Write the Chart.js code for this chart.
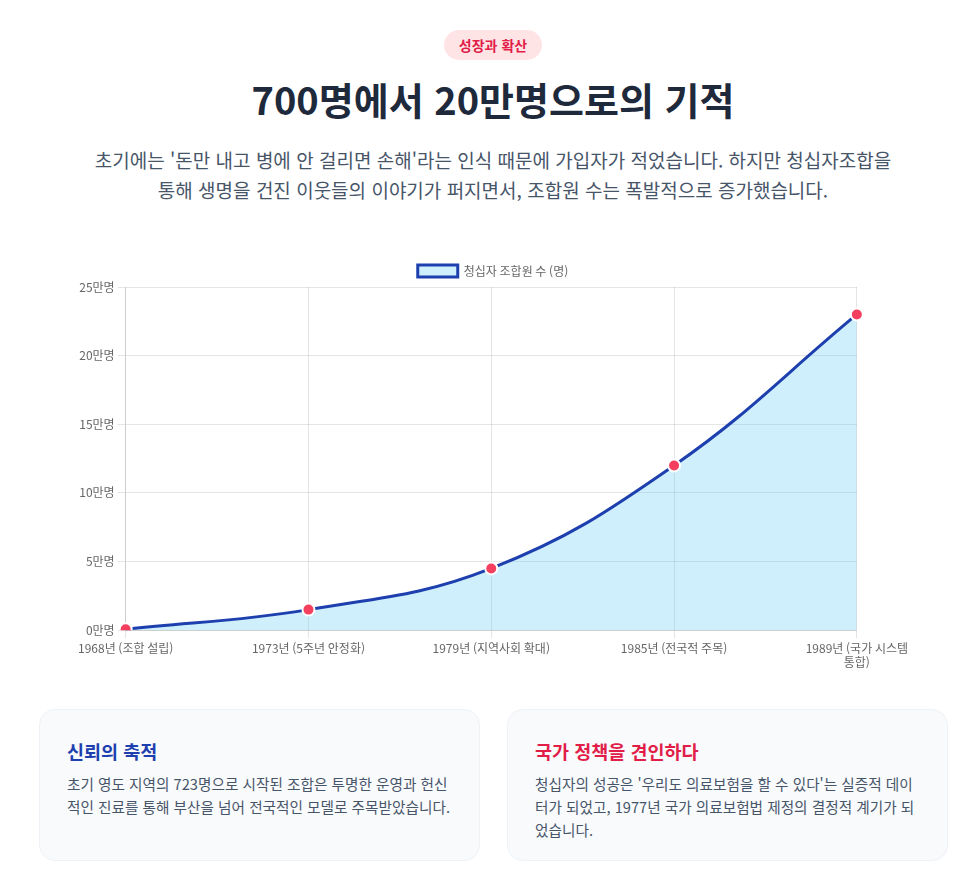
<!DOCTYPE html>
<html lang="ko">
<head>
<meta charset="utf-8">
<script src="https://cdn.jsdelivr.net/npm/chart.js@4"></script>
<style>
  html, body { margin: 0; padding: 0; background: #ffffff; }
  body { font-family: "Noto Sans CJK KR", "Noto Sans", sans-serif; width: 975px; height: 881px; overflow: hidden; }
  .wrap { position: absolute; left: 39px; width: 908px; top: 0; }
  .badge-row { text-align: center; margin-top: 30px; }
  .badge { display: inline-block; background: #ffe4e6; color: #e11d48; font-weight: 700; font-size: 14px; line-height: 30px; height: 30px; padding: 0 15px; border-radius: 15px; }
  h1 { margin: 12px 0 0 0; text-align: center; font-size: 38px; font-weight: 700; color: #1e293b; line-height: 54px; }
  .sub { margin: 19px auto 0 auto; width: 900px; text-align: center; font-size: 19px; color: #475569; line-height: 30px; }
  .chart-box { position: absolute; left: 36px; top: 255px; width: 836px; height: 418px; }
  .cards { position: absolute; left: 0; top: 709px; width: 908px; height: 152px; }
  .card { position: absolute; top: 0; width: 441px; height: 152px; box-sizing: border-box; background: #f8fafc; border: 1px solid #eef2f7; border-radius: 16px; padding: 26px 27px 26px 27px; }
  .card h3 { margin: 0; font-size: 18.5px; font-weight: 700; line-height: 30px; }
  .card p { margin: 6px 0 0 0; font-size: 14.65px; color: #475569; line-height: 23px; }
</style>
</head>
<body>
<div class="wrap">
  <div class="badge-row"><span class="badge">성장과 확산</span></div>
  <h1>700명에서 20만명으로의 기적</h1>
  <div class="sub">초기에는 '돈만 내고 병에 안 걸리면 손해'라는 인식 때문에 가입자가 적었습니다. 하지만 청십자조합을<br>통해 생명을 건진 이웃들의 이야기가 퍼지면서, 조합원 수는 폭발적으로 증가했습니다.</div>
  <div class="chart-box"><canvas id="c"></canvas></div>
  <div class="cards">
    <div class="card" style="left:0;">
      <h3 style="color:#1e40af;">신뢰의 축적</h3>
      <p>초기 영도 지역의 723명으로 시작된 조합은 투명한 운영과 헌신적인 진료를 통해 부산을 넘어 전국적인 모델로 주목받았습니다.</p>
    </div>
    <div class="card" style="left:468px;">
      <h3 style="color:#e11d48;">국가 정책을 견인하다</h3>
      <p>청십자의 성공은 '우리도 의료보험을 할 수 있다'는 실증적 데이터가 되었고, 1977년 국가 의료보험법 제정의 결정적 계기가 되었습니다.</p>
    </div>
  </div>
</div>
<script>
const categories = ['1968년 (조합 설립)', '1973년 (5주년 안정화)', '1979년 (지역사회 확대)', '1985년 (전국적 주목)', ['1989년 (국가 시스템', '통합)']];
const members = [723, 15000, 45000, 120000, 230000];
const seriesLabel = '청십자 조합원 수 (명)';
const yTicks = [0, 50000, 100000, 150000, 200000, 250000];

Chart.defaults.font.family = '"Noto Sans CJK KR", "Noto Sans", sans-serif';
Chart.defaults.font.size = 12;
Chart.defaults.color = '#666';

new Chart(document.getElementById('c'), {
  type: 'line',
  data: {
    labels: categories,
    datasets: [{
      label: seriesLabel,
      data: members,
      borderColor: '#1e40af',
      backgroundColor: 'rgba(56, 189, 248, 0.24)',
      borderWidth: 3,
      fill: true,
      tension: 0.4,
      pointBackgroundColor: '#f43f5e',
      pointBorderColor: '#ffffff',
      pointBorderWidth: 2,
      pointRadius: 6,
      pointHoverRadius: 8
    }]
  },
  options: {
    responsive: true,
    maintainAspectRatio: false,
    animation: false,
    plugins: {
      legend: { position: 'top', labels: { boxWidth: 40, boxHeight: 12 } },
      tooltip: { enabled: true }
    },
    scales: {
      y: {
        min: 0,
        max: 250000,
        afterBuildTicks: (axis) => { axis.ticks = yTicks.map(v => ({ value: v })); },
        ticks: { callback: (v) => (v / 10000) + '만명' },
        grid: { color: 'rgba(0,0,0,0.1)' }
      },
      x: {
        ticks: { maxRotation: 0, autoSkip: false },
        grid: { color: 'rgba(0,0,0,0.1)' }
      }
    }
  }
});
</script>
</body>
</html>
